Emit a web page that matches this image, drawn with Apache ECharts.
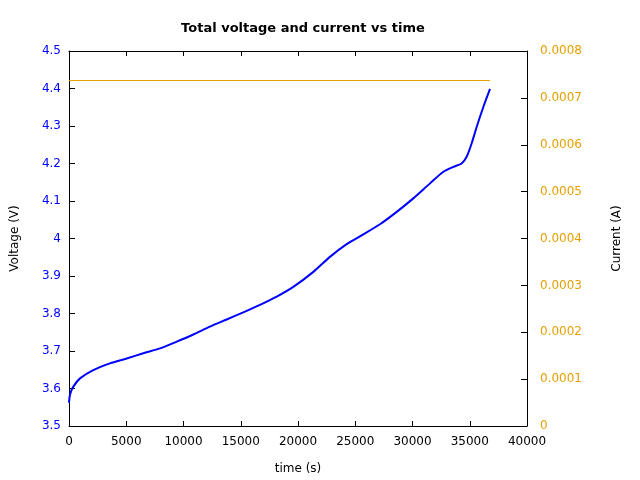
<!DOCTYPE html>
<html><head><meta charset="utf-8">
<script src="https://cdn.jsdelivr.net/npm/echarts@6/dist/echarts.min.js"></script>
<style>html,body{margin:0;padding:0;background:#fff}#c{width:640px;height:480px}</style>
</head><body><div id="c"></div>
<script>
var timeV = [0, 100, 380, 960, 2120, 3580, 5040, 6490, 7950, 9410, 10860, 12310, 13770, 15220, 16680, 18140, 19590, 21340, 22790, 24250, 25700, 27160, 28620, 30070, 31530, 32700, 33570, 34290, 34730, 35170, 35610, 36200, 36770];
var voltage = [3.562, 3.585, 3.605, 3.627, 3.649, 3.667, 3.680, 3.694, 3.707, 3.725, 3.744, 3.765, 3.784, 3.803, 3.823, 3.845, 3.871, 3.911, 3.951, 3.985, 4.011, 4.038, 4.071, 4.107, 4.147, 4.178, 4.191, 4.200, 4.218, 4.254, 4.298, 4.352, 4.399];
var timeI = [0, 36770];
var current = [0.000737, 0.000737];

var FONT = 'DejaVu Sans';
var BLUE = '#0000ff', ORANGE = '#e69f00';
function pairs(xs, ys){ return xs.map(function(x,i){ return [x, ys[i]]; }); }

var chart = echarts.init(document.getElementById('c'), null, {renderer:'canvas'});
chart.setOption({
  animation: false,
  textStyle: {fontFamily: FONT},
  title: {text: 'Total voltage and current vs time', left: 298, textAlign: 'center', top: 17,
    textStyle: {fontFamily: FONT, fontSize: 13, fontWeight: 'bold', color: '#000'}},
  grid: {left: 69, right: 113, top: 51, bottom: 54, show: false, outerBoundsMode: 'none'},
  xAxis: [{
    type: 'value', min: 0, max: 40000, interval: 5000, position: 'bottom',
    name: 'time (s)', nameLocation: 'middle', nameGap: 37,
    nameTextStyle: {fontFamily: FONT, fontSize: 12, color: '#000'},
    axisLine: {show: true, onZero: false, lineStyle: {color: '#000'}},
    axisTick: {show: true, inside: true, length: 5, lineStyle: {color: '#000'}},
    axisLabel: {fontFamily: FONT, fontSize: 12, color: '#000', margin: 10,
      formatter: function(v){ return String(v); }},
    splitLine: {show: false}
  },{
    type: 'value', min: 0, max: 40000, interval: 5000, position: 'top',
    axisLine: {show: true, onZero: false, lineStyle: {color: '#000'}},
    axisTick: {show: true, inside: true, length: 5, lineStyle: {color: '#000'}},
    axisLabel: {show: false}, splitLine: {show: false}
  }],
  yAxis: [{
    type: 'value', min: 3.5, max: 4.5, interval: 0.1, position: 'left',
    name: 'Voltage (V)', nameLocation: 'middle', nameGap: 48,
    nameTextStyle: {fontFamily: FONT, fontSize: 12, color: '#000'},
    axisLine: {show: true, onZero: false, lineStyle: {color: '#000'}},
    axisTick: {show: true, inside: true, length: 6, lineStyle: {color: '#000'}},
    axisLabel: {fontFamily: FONT, fontSize: 12, color: BLUE, margin: 8,
      formatter: function(v){ return String(Math.round(v*10)/10); }},
    splitLine: {show: false}
  },{
    type: 'value', min: 0, max: 0.0008, interval: 0.0001, position: 'right',
    name: 'Current (A)', nameLocation: 'middle', nameGap: 84,
    nameTextStyle: {fontFamily: FONT, fontSize: 12, color: '#000'},
    axisLine: {show: true, onZero: false, lineStyle: {color: '#000'}},
    axisTick: {show: true, inside: true, length: 6, lineStyle: {color: '#000'}},
    axisLabel: {fontFamily: FONT, fontSize: 12, color: ORANGE, margin: 13,
      formatter: function(v){ var r = Math.round(v*10000)/10000; return r === 0 ? '0' : r.toFixed(4); }},
    splitLine: {show: false}
  }],
  series: [{
    type: 'line', xAxisIndex: 0, yAxisIndex: 0, data: pairs(timeV, voltage),
    showSymbol: false, smooth: 0.25, lineStyle: {color: BLUE, width: 2}
  },{
    type: 'line', xAxisIndex: 0, yAxisIndex: 1, data: pairs(timeI, current),
    showSymbol: false, lineStyle: {color: ORANGE, width: 1}
  }]
});
</script></body></html>
